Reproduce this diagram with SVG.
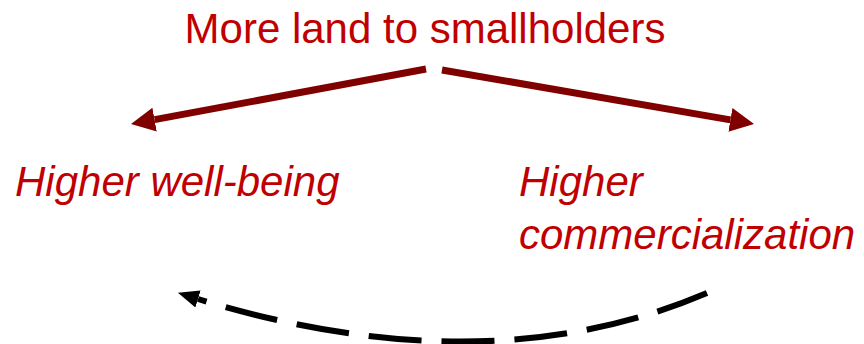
<svg xmlns="http://www.w3.org/2000/svg" width="864" height="344" viewBox="0 0 864 344">
  <style>
    .lbl { font-family: "Liberation Sans", Arial, sans-serif; font-size: 42px; fill: #C00000; }
    .it { font-style: italic; }
    .red { fill: none; stroke: #800000; stroke-width: 7; }
    .dash { fill: none; stroke: #000000; stroke-width: 6; stroke-dasharray: 53 20; }
  </style>
  <defs>
    <marker id="ahRed" markerUnits="userSpaceOnUse" markerWidth="26" markerHeight="26" refX="0" refY="12" orient="auto" viewBox="0 0 26 24">
      <path d="M0,0 L24,12 L0,24 z" fill="#800000"/>
    </marker>
    <marker id="ahBlack" markerUnits="userSpaceOnUse" markerWidth="22" markerHeight="20" refX="0" refY="9" orient="auto" viewBox="0 0 22 18">
      <path d="M0,0 L21,9 L0,18 z" fill="#000000"/>
    </marker>
  </defs>
  <g id="top">
    <text class="lbl" x="425" y="43" text-anchor="middle">More land to smallholders</text>
  </g>
  <g id="wellbeing">
    <text class="lbl it" x="15" y="196">Higher well-being</text>
  </g>
  <g id="commercialization">
    <text class="lbl it" x="519" y="196">Higher</text>
    <text class="lbl it" x="519" y="249">commercialization</text>
  </g>
  <g id="connectors">
    <path class="red" d="M426,69 L154.6,119.6" marker-end="url(#ahRed)"/>
    <path class="red" d="M442,70 L730.4,119.9" marker-end="url(#ahRed)"/>
    <path class="dash" d="M707,293 Q486,387 198,299" marker-end="url(#ahBlack)"/>
  </g>
</svg>
